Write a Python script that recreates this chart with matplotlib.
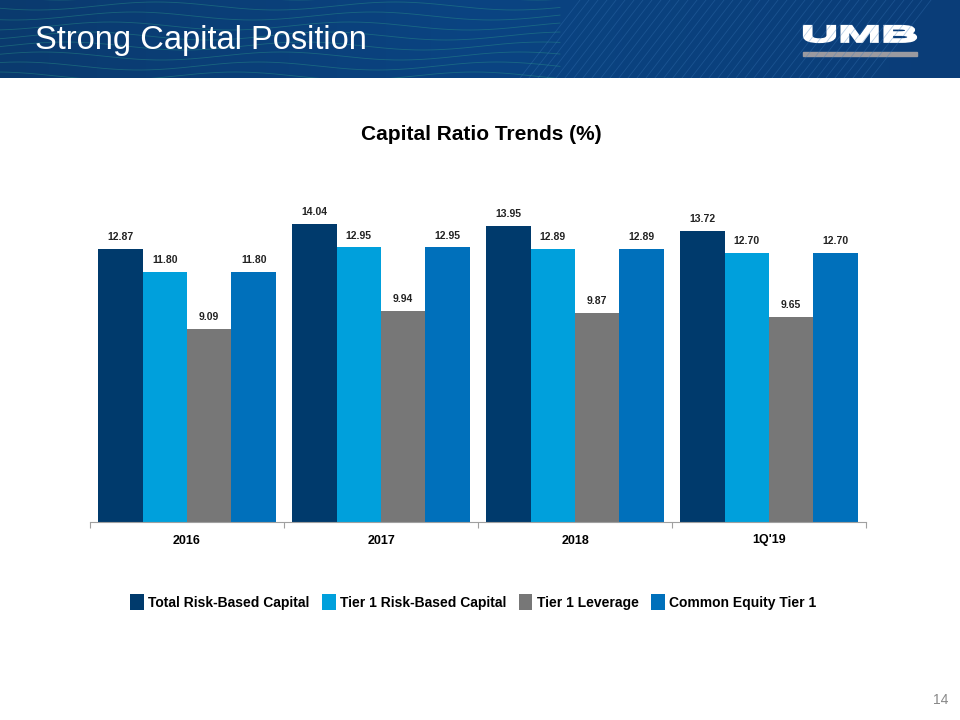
import numpy as np
import matplotlib
matplotlib.use("Agg")
import matplotlib.pyplot as plt
from matplotlib.patches import Rectangle, PathPatch
from matplotlib.textpath import TextPath
from matplotlib.font_manager import FontProperties
from matplotlib.transforms import Affine2D
from matplotlib.colors import LinearSegmentedColormap

categories = ["2016", "2017", "2018", "1Q'19"]
series_names = ["Total Risk-Based Capital", "Tier 1 Risk-Based Capital",
                "Tier 1 Leverage", "Common Equity Tier 1"]
total_rbc = [12.87, 14.04, 13.95, 13.72]
tier1_rbc = [11.80, 12.95, 12.89, 12.70]
tier1_lev = [9.09, 9.94, 9.87, 9.65]
cet1 = [11.80, 12.95, 12.89, 12.70]
colors = ["#003a6c", "#00a0dc", "#777777", "#0070bb"]

W, H = 960, 720
fig = plt.figure(figsize=(9.6, 7.2), dpi=100)
fig.patch.set_facecolor("white")

def px(l, t, r, b):
    return [l / W, 1 - b / H, (r - l) / W, (b - t) / H]

# Header band
hax = fig.add_axes(px(0, 0, 960, 78))
hax.set_xlim(0, 960); hax.set_ylim(78, 0); hax.axis("off")
grad = np.linspace(0, 1, 256)[None, :]
cmap = LinearSegmentedColormap.from_list("hdr", ["#0a3a6e", "#0b4482", "#0a3d78"])
hax.imshow(grad, extent=[0, 960, 78, 0], aspect="auto", cmap=cmap)
xs = np.linspace(0, 560, 400)
for k in range(9):
    y0 = -4 + k * 10
    hax.plot(xs, y0 + 4 * np.sin(xs / 38 + k * 0.6), color="#2fa08a", lw=0.6, alpha=0.4)
for k in range(40):
    x0 = 520 + k * 9
    hax.plot([x0, x0 + 60], [78, 0], color="#3a78b8", lw=0.6, alpha=0.35)
hax.text(35, 41, "Strong Capital Position", color="white", fontsize=23.5,
         va="center", ha="left", family="Liberation Sans")

# UMB logo as scaled text path
fp = FontProperties(family="Liberation Sans", weight="bold")
tp = TextPath((0, 0), "UMB", size=10, prop=fp)
bb = tp.get_extents()
sx = (916 - 804) / bb.width
sy = (42 - 26) / bb.height
tr = Affine2D().translate(-bb.x0, -bb.y0).scale(sx, -sy).translate(804, 42)
hax.add_patch(PathPatch(tr.transform_path(tp), facecolor="white", edgecolor="white",
                        lw=1.6, joinstyle="miter"))
hax.add_patch(Rectangle((803, 52), 114, 3.5, color="#9a9aa0"))

# Chart axes
ax = fig.add_axes(px(90, 150, 866, 522))
ymax = 372 / 21.2
ax.set_ylim(0, ymax)
ax.set_xlim(-0.5, len(categories) - 0.5)
x = np.arange(len(categories))
bw = 0.229
data = [total_rbc, tier1_rbc, tier1_lev, cet1]
for i, (vals, c, name) in enumerate(zip(data, colors, series_names)):
    pos = x + (i - 1.5) * bw
    ax.bar(pos, vals, width=bw, color=c, label=name, edgecolor="none")
    for p, v in zip(pos, vals):
        ax.annotate(f"{v:.2f}", (p, v), xytext=(0, 5), textcoords="offset points",
                    ha="center", va="bottom", fontsize=7.5, fontweight="bold",
                    color="#222222", family="Liberation Sans")

for s in ["top", "right", "left"]:
    ax.spines[s].set_visible(False)
ax.spines["bottom"].set_color("#a0a0a0")
ax.spines["bottom"].set_linewidth(0.8)
ax.set_yticks([])
ax.set_xticks(np.arange(-0.5, len(categories), 1.0))
ax.set_xticklabels([])
ax.tick_params(axis="x", length=4, color="#a0a0a0", width=0.8)
ax.set_xticks(x, minor=True)
ax.set_xticklabels(categories, minor=True, fontsize=9, fontweight="bold",
                   family="Liberation Sans")
ax.tick_params(axis="x", which="minor", length=0, pad=9)

fig.text(481 / W, 1 - 134 / H, "Capital Ratio Trends (%)", ha="center", va="center",
         fontsize=15, fontweight="bold", family="Liberation Sans")

handles, labels = ax.get_legend_handles_labels()
fig.legend(handles, labels, loc="center", bbox_to_anchor=(473 / W, 1 - 602 / H),
           ncol=4, frameon=False, handlelength=1.0, handleheight=1.3,
           handletextpad=0.3, columnspacing=0.9,
           prop={"size": 10, "weight": "bold", "family": "Liberation Sans"})

fig.text(948 / W, 1 - 700 / H, "14", ha="right", va="center", fontsize=10,
         color="#888888", family="Liberation Sans")

fig.savefig("out.png", dpi=100)
